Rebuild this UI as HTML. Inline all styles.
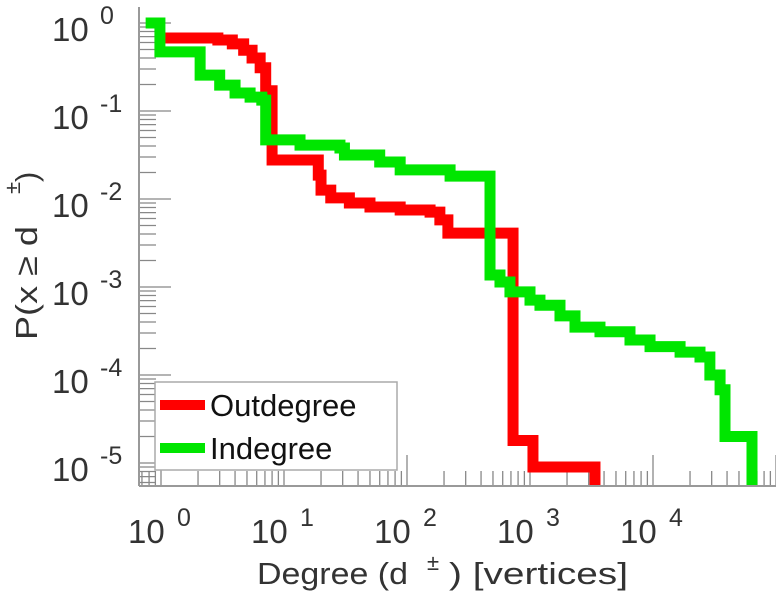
<!DOCTYPE html>
<html><head><meta charset="utf-8"><style>
body{margin:0;background:#fff;width:776px;height:600px;overflow:hidden}
svg{display:block;font-family:"Liberation Sans",sans-serif}
</style></head><body>
<svg id="chart" width="776" height="600">
<defs><clipPath id="clip"><rect x="139" y="5" width="637" height="481"/></clipPath></defs>
<g id="ticks"></g>
<g id="series" clip-path="url(#clip)"></g>
<line x1="139" y1="7" x2="139" y2="486" stroke="#999" stroke-width="2"/>
<line x1="139" y1="486" x2="776" y2="486" stroke="#999" stroke-width="2"/>
<g id="labels" fill="#333" font-size="33"></g>
<g transform="translate(37,0) rotate(-90)" font-size="31" fill="#333">
<text x="-340" y="0" textLength="114" lengthAdjust="spacingAndGlyphs">P(x ≥ d</text>
<text x="-194" y="-17" font-size="22">±</text>
<text x="-182" y="0">)</text>
</g>
<g font-size="31" fill="#333">
<text x="257" y="584" textLength="151" lengthAdjust="spacingAndGlyphs">Degree (d</text>
<text x="427" y="570" font-size="22">±</text>
<text x="449" y="584" textLength="179" lengthAdjust="spacingAndGlyphs">) [vertices]</text>
</g>
<g>
<rect x="155" y="382" width="242" height="88" fill="#fff" stroke="#aaa" stroke-width="1.5"/>
<line x1="160" y1="405" x2="205" y2="405" stroke="#ff0000" stroke-width="10"/>
<text x="210" y="416" font-size="31" fill="#111">Outdegree</text>
<line x1="160" y1="448" x2="205" y2="448" stroke="#00e600" stroke-width="10"/>
<text x="210" y="459" font-size="31" fill="#111">Indegree</text>
</g>
</svg>
<script>
const outX=[1.08,2.9,3.8,4.7,5.5,6.4,7.1,8.0,19,20,24,34,50,88,154,185,215,728,1057,3375];
const outP=[0.675,0.64,0.58,0.49,0.40,0.31,0.17,0.0277,0.0187,0.0126,0.0103,0.0090,0.0081,0.0075,0.0071,0.0058,0.0041,1.8e-5,9e-6,4e-6];
const inX=[0.75,0.98,2.08,3.0,4.0,5.3,6.6,7.1,13.5,28.5,31,60,88,224,473,570,687,1000,1205,1753,2322,3706,6500,9460,16600,24100,29000,35100,38500,63800];
const inP=[1,0.47,0.256,0.197,0.160,0.144,0.133,0.047,0.041,0.038,0.0316,0.0263,0.0214,0.0182,0.00137,0.00114,8.8e-4,7.1e-4,6.2e-4,4.7e-4,3.5e-4,3.1e-4,2.5e-4,2.1e-4,1.82e-4,1.6e-4,1.0e-4,6.8e-5,2.0e-5,4e-6];
const xTickExp=[0,1,2,3,4];
const yTickExp=[0,-1,-2,-3,-4,-5];
const NS="http://www.w3.org/2000/svg";
function sx(v){return 161+123*Math.log10(v);}
function sy(v){return 23-88*Math.log10(v);}
function mk(t,a,p){const e=document.createElementNS(NS,t);for(const k in a)e.setAttribute(k,a[k]);p.appendChild(e);return e;}
function stepPath(xs,ps){let d="M"+sx(xs[0])+","+sy(ps[0]);for(let i=1;i<xs.length;i++){d+=" L"+sx(xs[i])+","+sy(ps[i-1])+" L"+sx(xs[i])+","+sy(ps[i]);}return d;}
const sg=document.getElementById('series');
const r=mk('path',{d:stepPath(outX,outP),fill:'none',stroke:'#ff0000','stroke-width':11,'stroke-linejoin':'miter'},sg);


const g=mk('path',{d:stepPath(inX,inP),fill:'none',stroke:'#00e600','stroke-width':11,'stroke-linejoin':'miter'},sg);


const tg=document.getElementById('ticks');
const lg=document.getElementById('labels');
for(let e=-1;e<=5;e++){for(let m=1;m<10;m++){const x=sx(m*Math.pow(10,e));if(x<140||x>776)continue;
const t=mk('line',{x1:x,x2:x,y1:486,y2:486-(m==1?31:15),stroke:'#888','stroke-width':1.3},tg);

}}
for(let e=-6;e<=0;e++){for(let m=1;m<10;m++){const y=sy(m*Math.pow(10,e));if(y<7||y>486)continue;
const t=mk('line',{x1:139,x2:139+(m==1?32:17),y1:y,y2:y,stroke:'#888','stroke-width':1.3},tg);

}}
xTickExp.forEach(e=>{const x=sx(Math.pow(10,e));
const t=mk('text',{x:x-33,y:543},lg);t.textContent='10';


const s=mk('text',{x:x+16,y:526,'font-size':25},lg);s.textContent=String(e);

});
yTickExp.forEach(e=>{const y=sy(Math.pow(10,e));
const t=mk('text',{x:52,y:y+18},lg);t.textContent='10';


const s=mk('text',{x:100,y:y+1,'font-size':25},lg);s.textContent=String(e);

});
</script>
</body></html>
